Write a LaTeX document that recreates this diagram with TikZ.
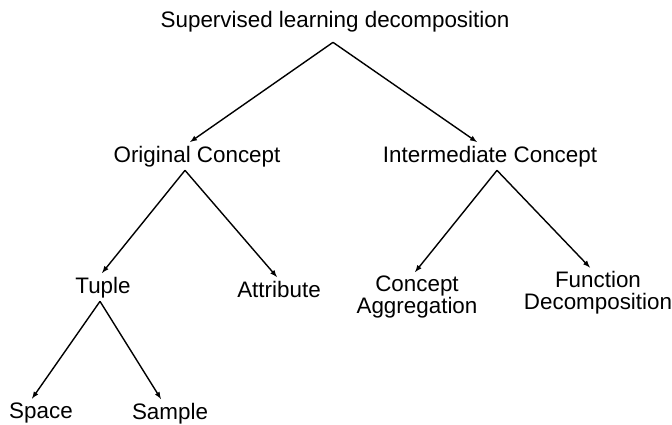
\documentclass[tikz,border=0pt]{standalone}
\usepackage{fontspec}
\setmainfont{Liberation Sans}
\usetikzlibrary{positioning}

\begin{document}
\begin{tikzpicture}[x=1pt,y=-1pt,line width=1.4pt,
  every node/.style={font=\fontsize{22.4}{21.5}\selectfont,inner sep=3pt,anchor=base}]
\useasboundingbox (0,0) rectangle (672,425);

\node[inner ysep=9pt] (root) at (335,28) {Supervised learning decomposition};
\node (orig) at (197,162) {Original Concept};
\node (inter) at (490,162) {Intermediate Concept};
\node (tuple) at (103,293) {Tuple};
\node (attr) at (279,297) {Attribute};
\node[align=center] (aggr) at (417,313) {Concept\\Aggregation};
\node[align=center] (func) at (598,309) {Function\\Decomposition};
\node (space) at (41,418) {Space};
\node (sample) at (170,419) {Sample};

\foreach \a/\sx/\b/\ex in {root/-2/orig/-7, root/-2/inter/-13, orig/-12/tuple/-1, orig/-12/attr/-2,
  tuple/-3/space/-9, tuple/-3/sample/-9, inter/7/aggr/-2, inter/7/func/-8} {
    \draw[-latex] ([xshift=\sx pt]\a.south) -- ([xshift=\ex pt]\b.north);
}
\end{tikzpicture}
\end{document}
